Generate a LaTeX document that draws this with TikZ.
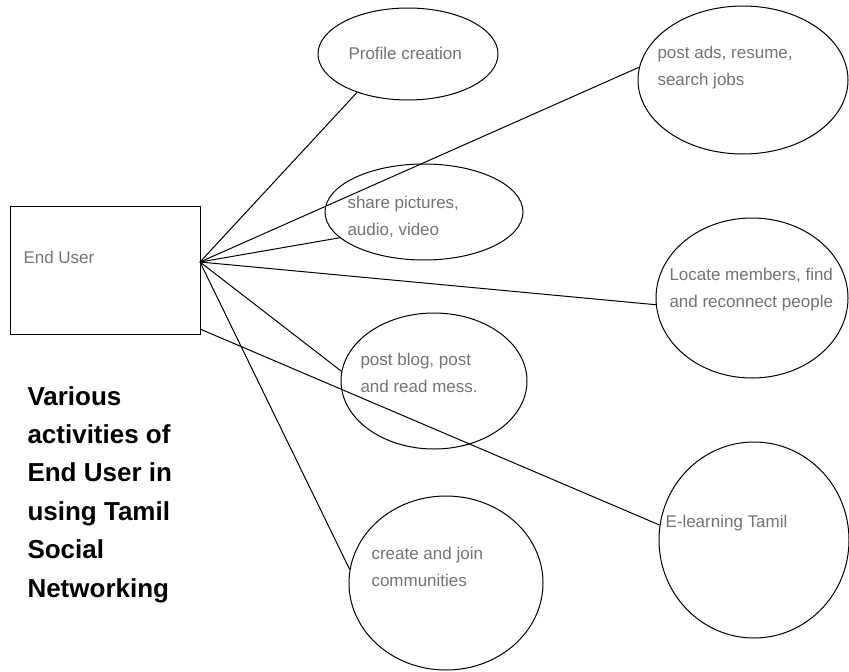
\documentclass[tikz,border=0pt]{standalone}
\usepackage{fontspec}
\setmainfont{Liberation Sans}
\usetikzlibrary{shapes.geometric}

\begin{document}
\begin{tikzpicture}[x=1pt,y=-1pt,line width=1pt,
        oval/.style={draw,ellipse,inner sep=0pt},
        txt/.style={anchor=base west,inner sep=0pt,align=left,text=black!55,font=\fontsize{17}{27}\selectfont}]
        \useasboundingbox (0,0) rectangle (849,672);
        \node[draw,minimum width=190pt,minimum height=128pt,inner sep=0pt] (user) at (105,270) {};
        \node[oval,minimum width=180pt,minimum height=92pt] (prof) at (408,54) {};
        \node[oval,minimum width=210pt,minimum height=148pt] (ads) at (743,80) {};
        \node[oval,minimum width=198pt,minimum height=96pt] (share) at (424,212) {};
        \node[oval,minimum width=192pt,minimum height=160pt] (locate) at (752,298) {};
        \node[oval,minimum width=186pt,minimum height=136pt] (blog) at (434,381) {};
        \node[oval,minimum width=190pt,minimum height=196pt] (elearn) at (754,540) {};
        \node[oval,minimum width=194pt,minimum height=174pt] (create) at (446,583) {};
        \coordinate (hub) at (200,262);
        \coordinate (corner) at (200,329);
        \foreach \n/\a in {prof/217,ads/173,share/197,locate/184,blog/174,create/172}
            \draw (hub) -- (\n.\a);
        \draw (corner) -- (elearn.171);
        \node[txt] (user-t) at (23,263) {End User};
        \node[txt] (prof-t) at (348,59) {Profile creation};
        \node[txt] (ads-t) at (657,85) {post ads, resume,\\search jobs};
        \node[txt] (share-t) at (347,235) {share pictures,\\audio, video};
        \node[txt] (locate-t) at (669,307) {Locate members, find\\and reconnect people};
        \node[txt] (blog-t) at (360,392) {post blog, post\\and read mess.};
        \node[txt] (elearn-t) at (665,527) {E-learning Tamil};
        \node[txt] (create-t) at (371,586) {create and join\\communities};
        \node[anchor=base west,inner sep=0pt,align=left,font=\bfseries\fontsize{26}{38.4}\selectfont] (title) at (27,597)
            {Various\\activities of\\End User in\\using Tamil\\Social\\Networking};
    \end{tikzpicture}
\end{document}
